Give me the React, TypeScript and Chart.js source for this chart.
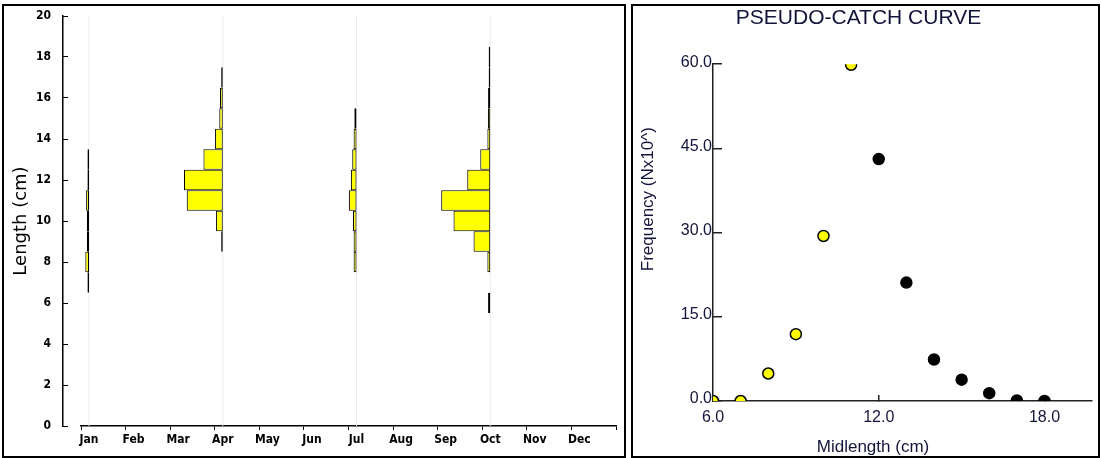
import React, { useEffect, useRef } from 'react';
import { Chart, registerables } from 'chart.js';

Chart.register(...registerables);

// ---------- Left panel: monthly length-frequency samples ----------
const MONTHS = ['Jan', 'Feb', 'Mar', 'Apr', 'May', 'Jun', 'Jul', 'Aug', 'Sep', 'Oct', 'Nov', 'Dec'];
const LENGTH_MIN = 0;
const LENGTH_MAX = 20;
const LENGTH_STEP = 2;

// length class mid-points (cm) and frequencies for each sampled month
const JAN_INDEX = 0;
const JAN_CLASSES = [7, 8, 9, 10, 11, 12, 13];
const JAN_FREQ = [1.6, 3.7, 2.2, 2.2, 2.9, 1.6, 1.6];

const APR_INDEX = 3;
const APR_CLASSES = [9, 10, 11, 12, 13, 14, 15, 16, 17];
const APR_FREQ = [1.6, 6.7, 36, 38.7, 19.3, 7.7, 3.5, 2.8, 1.6];

const JUL_INDEX = 6;
const JUL_CLASSES = [8, 9, 10, 11, 12, 13, 14, 15];
const JUL_FREQ = [2.9, 2.9, 3.5, 7.7, 5.7, 4.3, 2.9, 2.2];

const OCT_INDEX = 9;
const OCT_CLASSES = [6, 7, 8, 9, 10, 11, 12, 13, 14, 15, 16, 17, 18];
const OCT_FREQ = [2.2, 0, 2.9, 16.7, 36.7, 49, 23, 10, 2.9, 2.4, 2.2, 1.6, 1.6];

const FREQ_PER_MONTH = 44.5; // frequency that spans one month spacing
const MONTH_TICK_SHIFT = 0.18; // month tick marks sit slightly before the sample line

// ---------- Right panel: pseudo-catch curve ----------
const ASC_MIDLENGTH = [6, 7, 8, 9, 10, 11];
const ASC_FREQ = [0, 0, 4.9, 11.9, 29.4, 59.9];
const DESC_MIDLENGTH = [12, 13, 14, 15, 16, 17, 18];
const DESC_FREQ = [43.1, 21.1, 7.4, 3.8, 1.4, 0.1, 0];
const MID_MIN = 6;
const MID_MAX = 19.72;
const MID_STEP = 6;
const FREQ_MIN = 0;
const FREQ_MAX = 60;
const FREQ_STEP = 15;

const NARROW = '"Liberation Sans Narrow", "DejaVu Sans Condensed", "Arial Narrow", Arial, sans-serif';
const SANS = '"Liberation Sans", Arial, sans-serif';
const RIGHT_TEXT = '#14143a';

const freeTextPlugin = {
  id: 'freeText',
  afterDraw(chart: any, _args: any, opts: any) {
    const { ctx, chartArea } = chart;
    const items = (opts && opts.items) || [];
    for (const it of items) {
      ctx.save();
      ctx.font = it.font;
      ctx.fillStyle = it.color;
      ctx.textAlign = 'center';
      ctx.textBaseline = 'middle';
      const x = chartArea.left + it.dx;
      const y = it.fromBottom ? chartArea.bottom + it.dy : chartArea.top + it.dy;
      ctx.translate(x, y);
      ctx.rotate(it.rotation || 0);
      ctx.fillText(it.text, 0, 0);
      ctx.restore();
    }
  },
};

function leftConfig(): any {
  const samples = [
    { m: JAN_INDEX, classes: JAN_CLASSES, freq: JAN_FREQ },
    { m: APR_INDEX, classes: APR_CLASSES, freq: APR_FREQ },
    { m: JUL_INDEX, classes: JUL_CLASSES, freq: JUL_FREQ },
    { m: OCT_INDEX, classes: OCT_CLASSES, freq: OCT_FREQ },
  ];
  const bars = samples.map((s) => ({
    type: 'bar',
    indexAxis: 'y',
    xAxisID: 'x',
    yAxisID: 'y',
    data: s.classes
      .map((c, i) => ({ y: c, x: [s.m - s.freq[i] / FREQ_PER_MONTH, s.m], f: s.freq[i] }))
      .filter((d) => d.f > 0),
    backgroundColor: '#ffff00',
    borderColor: '#000000',
    borderWidth: 1.1,
    borderSkipped: false,
    inflateAmount: 0,
    barPercentage: 1,
    categoryPercentage: 1,
    grouped: false,
    order: 1,
  }));
  const guides = samples.map((s) => ({
    type: 'line',
    xAxisID: 'x',
    yAxisID: 'y',
    data: [
      { x: s.m, y: LENGTH_MIN },
      { x: s.m, y: LENGTH_MAX },
    ],
    borderColor: '#ececec',
    borderWidth: 1,
    pointRadius: 0,
    order: 2,
  }));
  const tickFont = { family: NARROW, size: 12, weight: 'bold' };
  return {
    type: 'bar',
    data: { datasets: [...guides, ...bars] },
    options: {
      animation: false,
      responsive: false,
      indexAxis: 'y',
      layout: { padding: { left: 0, right: 8, top: 10, bottom: 0 } },
      plugins: { legend: { display: false }, tooltip: { enabled: false }, title: { display: false } },
      scales: {
        x: {
          type: 'linear',
          position: 'bottom',
          min: -MONTH_TICK_SHIFT,
          max: MONTHS.length - MONTH_TICK_SHIFT,
          offset: false,
          afterBuildTicks: (scale: any) => {
            scale.ticks = Array.from({ length: MONTHS.length + 1 }, (_, i) => ({ value: i - MONTH_TICK_SHIFT }));
          },
          ticks: {
            autoSkip: false,
            maxRotation: 0,
            callback: (_v: any, i: number) => MONTHS[i] ?? '',
            labelOffset: 8,
            padding: 3,
            color: '#000',
            font: tickFont,
          },
          grid: { display: true, drawOnChartArea: false, tickLength: 4, color: '#000', lineWidth: 1, offset: false },
          border: { display: true, color: '#000', width: 1.5 },
          afterFit: (scale: any) => {
            scale.height = 30;
            scale.paddingLeft = 0;
            scale.paddingRight = 0;
          },
        },
        y: {
          type: 'linear',
          position: 'left',
          weight: 1,
          min: LENGTH_MIN,
          max: LENGTH_MAX,
          offset: false,
          ticks: { stepSize: LENGTH_STEP, padding: 17, color: '#000', font: tickFont },
          grid: { display: true, drawOnChartArea: false, tickLength: -5, color: '#000', lineWidth: 1, offset: false },
          border: { display: true, color: '#000', width: 1.5 },
          title: {
            display: true,
            text: 'Length (cm)',
            color: '#000',
            font: { family: '"DejaVu Sans", sans-serif', size: 18, weight: 'normal' },
            padding: { top: 7, bottom: 0 },
          },
          afterFit: (scale: any) => {
            scale.width = 59;
            scale.paddingTop = 0;
            scale.paddingBottom = 0;
          },
        },
        ySpacer: {
          type: 'linear',
          position: 'left',
          weight: 0,
          display: true,
          ticks: { display: false },
          grid: { display: false },
          border: { display: false },
          afterFit: (scale: any) => {
            scale.width = 18;
            scale.paddingTop = 0;
            scale.paddingBottom = 0;
          },
        },
      },
    },
  };
}

function rightConfig(): any {
  return {
    type: 'scatter',
    data: {
      datasets: [
        {
          data: ASC_MIDLENGTH.map((x, i) => ({ x, y: ASC_FREQ[i] })),
          backgroundColor: '#ffff00',
          borderColor: '#000',
          pointRadius: 5.5,
          pointBorderWidth: 1.5,
        },
        {
          data: DESC_MIDLENGTH.map((x, i) => ({ x, y: DESC_FREQ[i] })),
          backgroundColor: '#000',
          borderColor: '#000',
          pointRadius: 5.5,
          pointBorderWidth: 1.5,
        },
      ],
    },
    plugins: [freeTextPlugin],
    options: {
      animation: false,
      responsive: false,
      layout: { padding: { left: 0, right: 1, top: 0, bottom: 0 } },
      plugins: {
        legend: { display: false },
        tooltip: { enabled: false },
        title: {
          display: true,
          text: 'PSEUDO-CATCH CURVE',
          color: RIGHT_TEXT,
          font: { family: SANS, size: 21, weight: 'normal' },
          padding: { top: 0, bottom: 33 },
        },
        freeText: {
          items: [
            { text: 'Frequency (Nx10^)', font: `17px ${SANS}`, color: RIGHT_TEXT, dx: -65, dy: 135, rotation: -Math.PI / 2 },
            { text: 'Midlength (cm)', font: `17px ${SANS}`, color: RIGHT_TEXT, dx: 160, dy: 46, fromBottom: true },
          ],
        },
      },
      scales: {
        x: {
          type: 'linear',
          position: 'bottom',
          min: MID_MIN,
          max: MID_MAX,
          ticks: {
            stepSize: MID_STEP,
            includeBounds: false,
            autoSkip: false,
            maxRotation: 0,
            padding: 13,
            color: RIGHT_TEXT,
            font: { family: SANS, size: 16 },
            callback: (v: any) => Number(v).toFixed(1),
          },
          grid: { display: true, drawOnChartArea: false, tickLength: -6, color: '#222', lineWidth: 1.5 },
          border: { display: true, color: '#222', width: 1.5 },
          afterFit: (scale: any) => {
            scale.height = 55;
          },
        },
        y: {
          type: 'linear',
          position: 'left',
          min: FREQ_MIN,
          max: FREQ_MAX,
          ticks: {
            stepSize: FREQ_STEP,
            padding: 10,
            labelOffset: -2,
            color: RIGHT_TEXT,
            font: { family: SANS, size: 16 },
            callback: (v: any) => Number(v).toFixed(1),
          },
          grid: { display: true, drawOnChartArea: false, tickLength: -9, color: '#222', lineWidth: 1.5 },
          border: { display: true, color: '#222', width: 1.5 },
          afterFit: (scale: any) => {
            scale.width = 94;
          },
        },
      },
    },
  };
}

export default function App() {
  const leftRef = useRef<HTMLCanvasElement>(null);
  const rightRef = useRef<HTMLCanvasElement>(null);

  useEffect(() => {
    const left = new Chart(leftRef.current as HTMLCanvasElement, leftConfig());
    const right = new Chart(rightRef.current as HTMLCanvasElement, rightConfig());
    return () => {
      left.destroy();
      right.destroy();
    };
  }, []);

  return (
    <div style={{ position: 'absolute', left: 0, top: 0, width: 1101, height: 458, overflow: 'hidden', background: '#fff' }}>
      <div style={{ position: 'absolute', left: 2, top: 4, width: 620, height: 450, border: '2px solid #000' }} />
      <div style={{ position: 'absolute', left: 631, top: 4, width: 465, height: 450, border: '2px solid #000' }} />
      <canvas ref={leftRef} width={620} height={450} style={{ position: 'absolute', left: 4, top: 6, width: 620, height: 450 }} />
      <canvas ref={rightRef} width={480} height={450} style={{ position: 'absolute', left: 619, top: 6, width: 480, height: 450 }} />
    </div>
  );
}
